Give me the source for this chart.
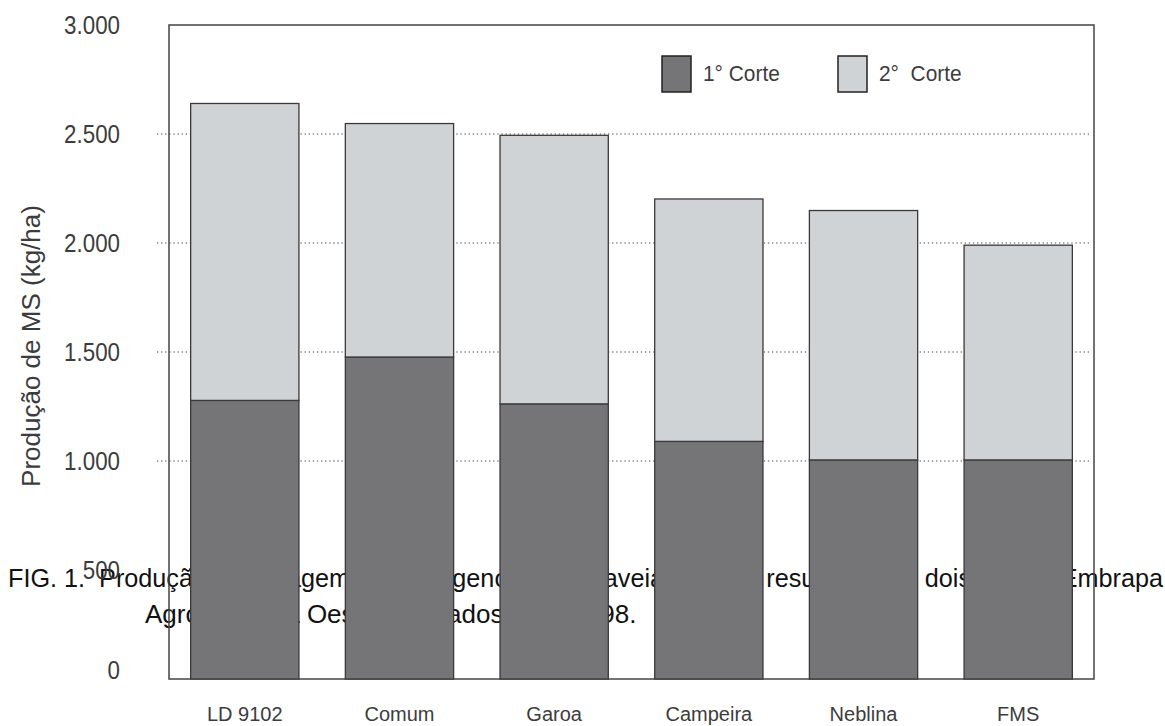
<!DOCTYPE html>
<html>
<head>
<meta charset="utf-8">
<script src="https://cdn.jsdelivr.net/npm/d3@7"></script>
<style>
	body { margin: 0; background: #fff; }
	svg { display: block; }
	text { font-family: "Liberation Sans", Arial, sans-serif; white-space: pre; }
</style>
</head>
<body>
<div id="chart"></div>
<script>
// values (kg/ha of dry matter)
const cultivars = ["LD 9102", "Comum", "Garoa", "Campeira", "Neblina", "FMS"]
const corte1 = [1278, 1477, 1262, 1090, 1005, 1005]
const corte2 = [1362, 1071, 1232, 1112, 1144, 985]
const seriesNames = ["1° Corte", "2°  Corte"]
const yTicks = [0, 500, 1000, 1500, 2000, 2500, 3000]
const gridTicks = [1000, 1500, 2000, 2500]
const yTitle = "Produção de MS (kg/ha)"
const caption1 = "FIG. 1.  Produção de forragem seca de genótipos de aveia, com os resultados de dois cortes. Embrapa"
const caption2 = "Agropecuária Oeste, Dourados, MS, 1998."

const colors = ["#757577", "#d0d3d6"]
const textColor = "#3c3c3c"

let width = 1165
let height = 726
let frame = { left: 169, right: 1094, top: 25, bottom: 679 }

let svg = d3
	.select("#chart")
	.append("svg")
	.attr("width", width)
	.attr("height", height)

// stacked data
let stack = cultivars.map((c, i) => ({
	name: c,
	parts: [
		{ y0: 0, y1: corte1[i], k: 0 },
		{ y0: corte1[i], y1: corte1[i] + corte2[i], k: 1 },
	],
}))

let x = d3
	.scaleBand()
	.domain(cultivars)
	.range([frame.left, frame.right])
	.paddingInner(0.3)
	.paddingOuter(0.14)

let y = d3
	.scaleLinear()
	.domain([0, 3000])
	.range([frame.bottom, frame.top])

let fmt = (v) => d3.format(",")(v).replace(/,/g, ".")

// caption sits underneath the bars in the scan
svg.append("text")
	.attr("x", 8)
	.attr("y", 587)
	.attr("font-size", 26)
	.attr("fill", "#111")
	.attr("textLength", 1155)
	.attr("lengthAdjust", "spacingAndGlyphs")
	.text(caption1)

svg.append("text")
	.attr("x", 145)
	.attr("y", 623)
	.attr("font-size", 26)
	.attr("fill", "#111")
	.text(caption2)

// dotted grid
svg.append("g")
	.selectAll("line")
	.data(gridTicks)
	.enter()
	.append("line")
	.attr("x1", frame.left - 12)
	.attr("x2", frame.right - 3)
	.attr("y1", (d) => y(d))
	.attr("y2", (d) => y(d))
	.attr("stroke", "#444")
	.attr("stroke-width", 1.2)
	.attr("stroke-dasharray", "1.3,2.8")

// frame
svg.append("rect")
	.attr("x", frame.left)
	.attr("y", frame.top)
	.attr("width", frame.right - frame.left)
	.attr("height", frame.bottom - frame.top)
	.attr("fill", "none")
	.attr("stroke", "#444")
	.attr("stroke-width", 1.5)

// bars
let groups = svg
	.append("g")
	.selectAll("g")
	.data(stack)
	.enter()
	.append("g")

groups
	.selectAll("rect")
	.data((d) => d.parts.map((p) => ({ ...p, name: d.name })))
	.enter()
	.append("rect")
	.attr("x", (d) => x(d.name))
	.attr("width", x.bandwidth())
	.attr("y", (d) => y(d.y1))
	.attr("height", (d) => y(d.y0) - y(d.y1))
	.attr("fill", (d) => colors[d.k])
	.attr("stroke", "#3a3a3c")
	.attr("stroke-width", 1.3)

// y tick labels, narrow face
svg.append("g")
	.selectAll("g")
	.data(yTicks)
	.enter()
	.append("g")
	.attr("transform", (d) => `translate(120, ${y(d)}) scale(0.86, 1)`)
	.append("text")
	.attr("dy", (d) => (d === 0 ? "0" : "0.36em"))
	.attr("text-anchor", "end")
	.attr("font-size", 26)
	.attr("fill", textColor)
	.text(fmt)

// y title
svg.append("text")
	.attr("transform", "translate(40, 346) rotate(-90)")
	.attr("text-anchor", "middle")
	.attr("font-size", 26)
	.attr("fill", textColor)
	.text(yTitle)

// x labels
svg.append("g")
	.selectAll("text")
	.data(cultivars)
	.enter()
	.append("text")
	.attr("x", (d) => x(d) + x.bandwidth() / 2)
	.attr("y", 721)
	.attr("text-anchor", "middle")
	.attr("font-size", 20)
	.attr("fill", textColor)
	.text((d) => d)

// legend
let legend = svg
	.append("g")
	.selectAll("g")
	.data(seriesNames)
	.enter()
	.append("g")
	.attr("transform", (d, i) => `translate(${662 + i * 176}, 56)`)

legend
	.append("rect")
	.attr("width", 29)
	.attr("height", 36)
	.attr("fill", (d, i) => colors[i])
	.attr("stroke", "#222")
	.attr("stroke-width", 1.5)

legend
	.append("g")
	.attr("transform", "translate(41, 25) scale(0.95, 1)")
	.append("text")
	.attr("font-size", 22)
	.attr("fill", textColor)
	.text((d) => d)
</script>
</body>
</html>
